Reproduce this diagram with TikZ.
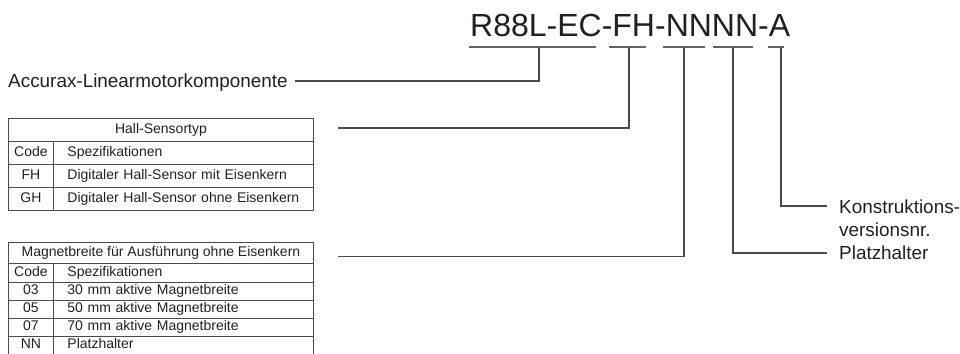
\documentclass[tikz,border=0pt]{standalone}
\usepackage{fontspec}
\setmainfont{Liberation Sans}
\definecolor{ink}{HTML}{231F20}
\definecolor{rulec}{HTML}{4A4A4A}
\begin{document}
\begin{tikzpicture}[x=1pt,y=-1pt,
  conn/.style={draw=rulec, line width=1.1pt},
  uline/.style={draw=rulec!85, line width=1.4pt},
  lbl/.style={inner sep=0pt, text=ink, font=\fontsize{18.9}{23}\selectfont, text height=13.5pt, text depth=0pt, anchor=west},
  tcell/.style={draw=rulec, line width=0.9pt, inner sep=0pt, anchor=north west, text=ink,
     font=\fontsize{14}{16}\selectfont, text height=10pt, text depth=3pt},
  hdcell/.style={tcell, minimum width=305pt},
  codecell/.style={tcell, minimum width=45pt},
  speccell/.style={tcell, text width=232pt, inner xsep=14pt, align=left},
]
\useasboundingbox (0,0) rectangle (960,353);

% title
\node[anchor=base west, inner sep=0pt, text=ink, font=\fontsize{32}{36}\selectfont] (title) at (470,37) {R88L-EC-FH-NNNN-A};
\draw[uline] (469,47) -- (596,47);
\draw[uline] (609,47) -- (646,47);
\draw[uline] (663,47) -- (705,47);
\draw[uline] (713,47) -- (753,47);
\draw[uline] (768,47) -- (784,47);
\coordinate (u1) at (539,47);
\coordinate (u2) at (629,47);
\coordinate (u3) at (684,47);
\coordinate (u4) at (733,47);
\coordinate (u5) at (781,47);

% Accurax label
\node[lbl] (acc) at (8,81) {Accurax-Linearmotorkomponente};
\draw[conn] ([xshift=7pt]acc.east) -| (u1);

% table 1
\node[hdcell, minimum height=23pt] (t1h) at (8,118) {Hall-Sensortyp};
\node[codecell, minimum height=23pt] (t1c0) at (8,141) {Code};
\node[speccell, minimum height=23pt] (t1s0) at (53,141) {Spezifikationen};
\node[codecell, minimum height=23pt] (t1c1) at (8,164) {FH};
\node[speccell, minimum height=23pt] (t1s1) at (53,164) {Digitaler Hall-Sensor mit Eisenkern};
\node[codecell, minimum height=23pt] (t1c2) at (8,187) {GH};
\node[speccell, minimum height=23pt] (t1s2) at (53,187) {Digitaler Hall-Sensor ohne Eisenkern};
\coordinate (h1) at (338,128);
\draw[conn] (h1) -| (u2);

% table 2
\node[hdcell, minimum height=21pt] (t2h) at (8,242) {Magnetbreite für Ausführung ohne Eisenkern};
\node[codecell, minimum height=19pt] (t2c0) at (8,263) {Code};
\node[speccell, minimum height=19pt] (t2s0) at (53,263) {Spezifikationen};
\node[codecell, minimum height=18pt] (t2c1) at (8,282) {03};
\node[speccell, minimum height=18pt] (t2s1) at (53,282) {30 mm aktive Magnetbreite};
\node[codecell, minimum height=18pt] (t2c2) at (8,300) {05};
\node[speccell, minimum height=18pt] (t2s2) at (53,300) {50 mm aktive Magnetbreite};
\node[codecell, minimum height=18pt] (t2c3) at (8,318) {07};
\node[speccell, minimum height=18pt] (t2s3) at (53,318) {70 mm aktive Magnetbreite};
\node[codecell, draw=none, minimum height=18pt] (t2c4) at (8,336) {NN};
\node[speccell, draw=none, minimum height=18pt] (t2s4) at (53,336) {Platzhalter};
\draw[draw=rulec, line width=0.9pt] (t2c4.north west) -- (t2c4.south west)
  (t2c4.north east) -- (t2c4.south east)
  (t2s4.north east) -- (t2s4.south east);
\coordinate (h2) at (338,256.5);
\draw[conn] (h2) -| (u3);

% right labels
\node[lbl] (plz) at (839,253) {Platzhalter};
\draw[conn] (u4) |- ([xshift=-12pt]plz.west);
\node[inner sep=0pt, anchor=north west, text=ink, font=\fontsize{18.9}{23}\selectfont, align=left] (kon) at (839,199.5) {Konstruktions-\\versionsnr.};
\coordinate (k1) at (827,206);
\draw[conn] (u5) |- (k1);
\end{tikzpicture}
\end{document}
